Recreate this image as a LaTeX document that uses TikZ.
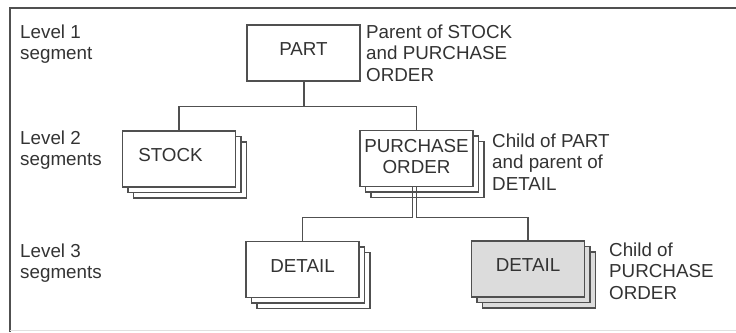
\documentclass[tikz,border=0pt]{standalone}
\usepackage{fontspec}
\setmainfont{Liberation Sans}
\usetikzlibrary{shadows}

\definecolor{linegray}{HTML}{505050}
\definecolor{textgray}{HTML}{333333}
\definecolor{fillgray}{HTML}{DCDCDC}

\begin{document}
\begin{tikzpicture}[x=1pt, y=-1pt,
    every node/.style={text=textgray, font=\fontsize{18.8}{21.5}\selectfont},
    segbox/.style={draw=linegray, line width=1.3pt, fill=white, minimum width=113pt, minimum height=56pt, inner sep=1pt, align=center},
    raised/.style={text height=13.5pt, text depth=8pt},
    stacked/.style={copy shadow={shadow xshift=11pt, shadow yshift=-11pt, draw=linegray, line width=1.3pt, fill=#1},
        copy shadow={shadow xshift=5.5pt, shadow yshift=-5.5pt, draw=linegray, line width=1.3pt, fill=#1}},
    stacked/.default=white,
    note/.style={anchor=west, align=left, inner sep=0pt},
    link/.style={draw=linegray, line width=1.2pt}]
    \useasboundingbox (0,0) rectangle (736,332);

    % frame
    \draw[linegray, line width=2pt] (736,8) -- (9.5,8) -- (9.5,332);
    \draw[black!12, line width=1pt] (9.5,330.5) -- (736,330.5);

    % Level 1
    \node[note] (lvlone) at (20,44) {Level 1\\segment};
    \node[segbox, raised] (part) at (303.5,53) {PART};
    \node[note] (partnote) at (366,53) {Parent of STOCK\\and PURCHASE\\ORDER};

    % Level 2
    \node[note] (lvltwo) at (20,150) {Level 2\\segments};
    \node[segbox, raised, stacked] (stock) at (179,159) {STOCK\hspace*{17pt}};
    \node[segbox, stacked, text depth=4pt] (po) at (416.5,158.5) {PURCHASE\\ORDER};
    \node[note] (ponote) at (492,162) {Child of PART\\and parent of\\DETAIL};

    % Level 3
    \node[note] (lvlthree) at (20,263) {Level 3\\segments};
    \node[segbox, raised, stacked] (detl) at (302.5,269.5) {DETAIL};
    \node[segbox, raised, stacked=fillgray, fill=fillgray] (detr) at (528,269) {DETAIL};
    \node[note] (detnote) at (609,271) {Child of\\PURCHASE\\ORDER};

    % connectors
    \draw[link, line width=2pt] (part.south) -- ++(0,25) coordinate (fork);
    \draw[link] (stock.north) |- (fork) -| (po.north);
    \draw[link] ([xshift=-4pt]po.south) -- ++(0,30) -| (detl.north);
    \draw[link] (po.south) -- ++(0,30) -| (detr.north);
\end{tikzpicture}
\end{document}
